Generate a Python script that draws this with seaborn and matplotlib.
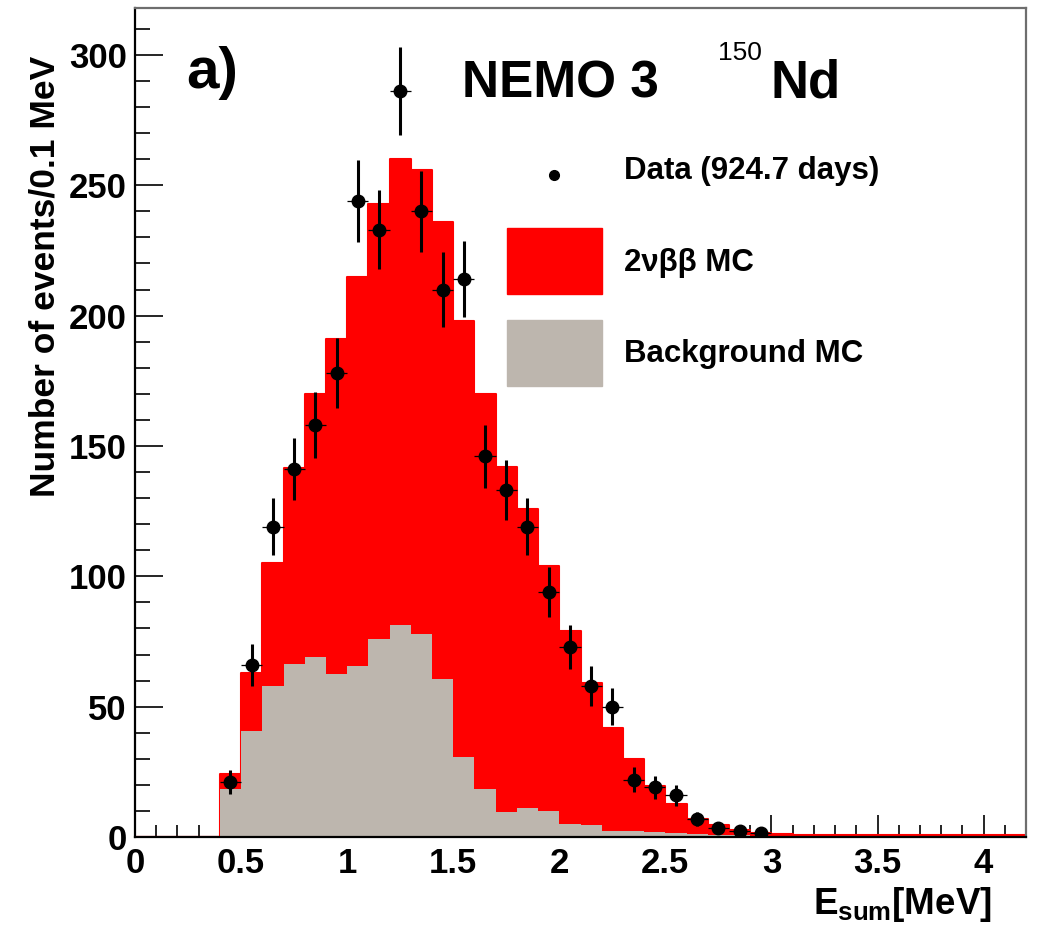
import numpy as np
import pandas as pd
import matplotlib
matplotlib.use("Agg")
import matplotlib.pyplot as plt
from matplotlib.lines import Line2D
from matplotlib.patches import Patch
from matplotlib.legend_handler import HandlerLine2D
from matplotlib.ticker import MultipleLocator, FixedLocator
import seaborn as sns

# ---------------- data ----------------
# 0.1 MeV bins from 0.0 to 4.2 MeV
bin_edges = [round(0.1 * i, 2) for i in range(43)]
bin_centers = [round(e + 0.05, 3) for e in bin_edges[:-1]]

# total MC (2nbb + background), events / 0.1 MeV
mc_total = [0, 0, 0, 0, 24, 63, 105, 141.5, 170, 191,
            215, 243, 260, 256, 236, 198, 170, 142, 126, 104,
            79, 59, 42, 30, 19.5, 12.5, 7, 4.5, 2.8, 1.6,
            1.0, 0.9, 0.8, 0.8, 0.8, 0.8, 0.8, 0.8, 0.8, 0.8,
            0.8, 0.8]
# background MC
mc_bkg = [0, 0, 0, 0, 18.4, 40.8, 58, 66.4, 69.2, 62.5,
          65.5, 76, 81.3, 78, 60.6, 30.6, 18.4, 9.5, 11.3, 10,
          4.8, 4.5, 2.4, 2.2, 2.0, 1.6, 1.2, 0.8, 0.6, 0.5,
          0.3, 0.2, 0, 0, 0, 0, 0, 0, 0, 0,
          0, 0]

# data points
data_x = [0.45, 0.55, 0.65, 0.75, 0.85, 0.95, 1.05, 1.15, 1.25, 1.35,
          1.45, 1.55, 1.65, 1.75, 1.85, 1.95, 2.05, 2.15, 2.25, 2.35,
          2.45, 2.55, 2.65, 2.75, 2.85, 2.95]
data_y = [21, 66, 119, 141, 158, 178, 244, 233, 286, 240,
          210, 214, 146, 133, 119, 94, 73, 58, 50, 22,
          19, 16, 7, 3.5, 2.4, 1.4]
data_err = [4.6, 8.1, 10.9, 11.9, 12.6, 13.3, 15.6, 15.3, 16.9, 15.5,
            14.5, 14.6, 12.1, 11.5, 10.9, 9.7, 8.5, 7.6, 7.1, 4.7,
            4.4, 4.0, 2.6, 1.9, 1.5, 1.2]
data_xerr = [0.05] * len(data_x)

x_ticks = [0, 0.5, 1, 1.5, 2, 2.5, 3, 3.5, 4]
x_tick_labels = ["0", "0.5", "1", "1.5", "2", "2.5", "3", "3.5", "4"]
y_ticks = [0, 50, 100, 150, 200, 250, 300]
y_tick_labels = ["0", "50", "100", "150", "200", "250", "300"]

label_data = "Data (924.7 days)"
label_sig = "2νββ MC"
label_bkg = "Background MC"

hist_df = pd.DataFrame({"E": bin_centers, "mc_total": mc_total, "mc_bkg": mc_bkg})

# ---------------- style ----------------
sns.set_style("ticks")
plt.rcParams["font.family"] = ["Liberation Sans", "DejaVu Sans"]
plt.rcParams["font.weight"] = "bold"
plt.rcParams["text.color"] = "black"
plt.rcParams["axes.labelcolor"] = "black"
plt.rcParams["xtick.color"] = "black"
plt.rcParams["ytick.color"] = "black"
plt.rcParams["mathtext.fontset"] = "custom"
plt.rcParams["mathtext.rm"] = "Liberation Sans:bold"
plt.rcParams["mathtext.bf"] = "Liberation Sans:bold"
plt.rcParams["mathtext.it"] = "Liberation Sans:bold"

RED = "#ff0000"
GRAY = "#bdb6ae"

fig = plt.figure(figsize=(10.38, 9.26), dpi=100)
ax = fig.add_axes([135 / 1038, 1 - 837 / 926, (1026 - 135) / 1038, (837 - 8) / 926])

sns.histplot(data=hist_df, x="E", weights="mc_total", bins=bin_edges, element="step",
             fill=True, color=RED, alpha=1.0, linewidth=1.5, edgecolor=RED, ax=ax)
sns.histplot(data=hist_df, x="E", weights="mc_bkg", bins=bin_edges, element="step",
             fill=True, color=GRAY, alpha=1.0, linewidth=0.0, edgecolor=GRAY, ax=ax)

# data with error bars
ax.errorbar(data_x, data_y, xerr=data_xerr, fmt="none", ecolor="black",
            elinewidth=0.9, capsize=0, zorder=4)
ax.errorbar(data_x, data_y, yerr=data_err, fmt="o", color="black", ms=9,
            elinewidth=2.2, capsize=0, zorder=5)

ax.set_xlim(0, 4.2)
ax.set_ylim(0, 318)

ax.xaxis.set_major_locator(FixedLocator(x_ticks))
ax.set_xticklabels(x_tick_labels)
ax.xaxis.set_minor_locator(MultipleLocator(0.1))
ax.yaxis.set_major_locator(FixedLocator(y_ticks))
ax.set_yticklabels(y_tick_labels)
ax.yaxis.set_minor_locator(MultipleLocator(10))

ax.tick_params(axis="x", which="major", direction="in", length=16, width=1.2,
               labelsize=25, pad=7, bottom=True, top=False)
ax.tick_params(axis="x", which="minor", direction="in", length=8.5, width=1.2,
               bottom=True, top=False)
ax.tick_params(axis="y", which="major", direction="in", length=20, width=1.2,
               labelsize=25, pad=6, left=True, right=False)
ax.tick_params(axis="y", which="minor", direction="in", length=11, width=1.2,
               left=True, right=False)
for lab in ax.get_xticklabels() + ax.get_yticklabels():
    lab.set_fontweight("bold")

for s in ["left", "bottom"]:
    ax.spines[s].set_color("black")
    ax.spines[s].set_linewidth(1.6)
for s in ["top", "right"]:
    ax.spines[s].set_visible(True)
    ax.spines[s].set_color("#6e6e6e")
    ax.spines[s].set_linewidth(1.6)

ax.set_ylabel("Number of events/0.1 MeV", fontsize=25.5, fontweight="bold", loc="top")
ax.yaxis.set_label_coords(-0.083, 0.943)
ax.set_xlabel(r"E$_{\mathrm{sum}}$[MeV]", fontsize=26.5, fontweight="bold", loc="right")
ax.xaxis.set_label_coords(0.962, -0.058)

# annotations
ax.text(0.058, 0.9035, "a)", transform=ax.transAxes, fontsize=42,
        fontweight="bold", ha="left", va="baseline")
ax.text(0.367, 0.8926, "NEMO 3", transform=ax.transAxes, fontsize=37,
        fontweight="bold", ha="left", va="baseline")
ax.text(0.654, 0.937, "150", transform=ax.transAxes, fontsize=19,
        fontweight="normal", ha="left", va="baseline")
ax.text(0.7127, 0.8926, "Nd", transform=ax.transAxes, fontsize=38,
        fontweight="bold", ha="left", va="baseline")


class LowDotHandler(HandlerLine2D):
    """Place the legend dot a little closer to the text baseline."""
    def create_artists(self, legend, orig_handle, xdescent, ydescent,
                       width, height, fontsize, trans):
        return super().create_artists(legend, orig_handle, xdescent, ydescent,
                                      width, height - 24, fontsize, trans)


dot_handle = Line2D([], [], marker="o", color="black", linestyle="none", markersize=7)
handles = [
    dot_handle,
    Patch(facecolor=RED, edgecolor=RED),
    Patch(facecolor=GRAY, edgecolor=GRAY),
]
leg = ax.legend(handles, [label_data, label_sig, label_bkg], loc="upper left",
                bbox_to_anchor=(0.4175, 0.8444), frameon=False, fontsize=22.5,
                handlelength=3.03, handleheight=2.85, labelspacing=0.83,
                handletextpad=0.7, borderpad=0, borderaxespad=0,
                handler_map={dot_handle: LowDotHandler()})
for t in leg.get_texts():
    t.set_fontweight("bold")

fig.savefig("out.png", dpi=100)
